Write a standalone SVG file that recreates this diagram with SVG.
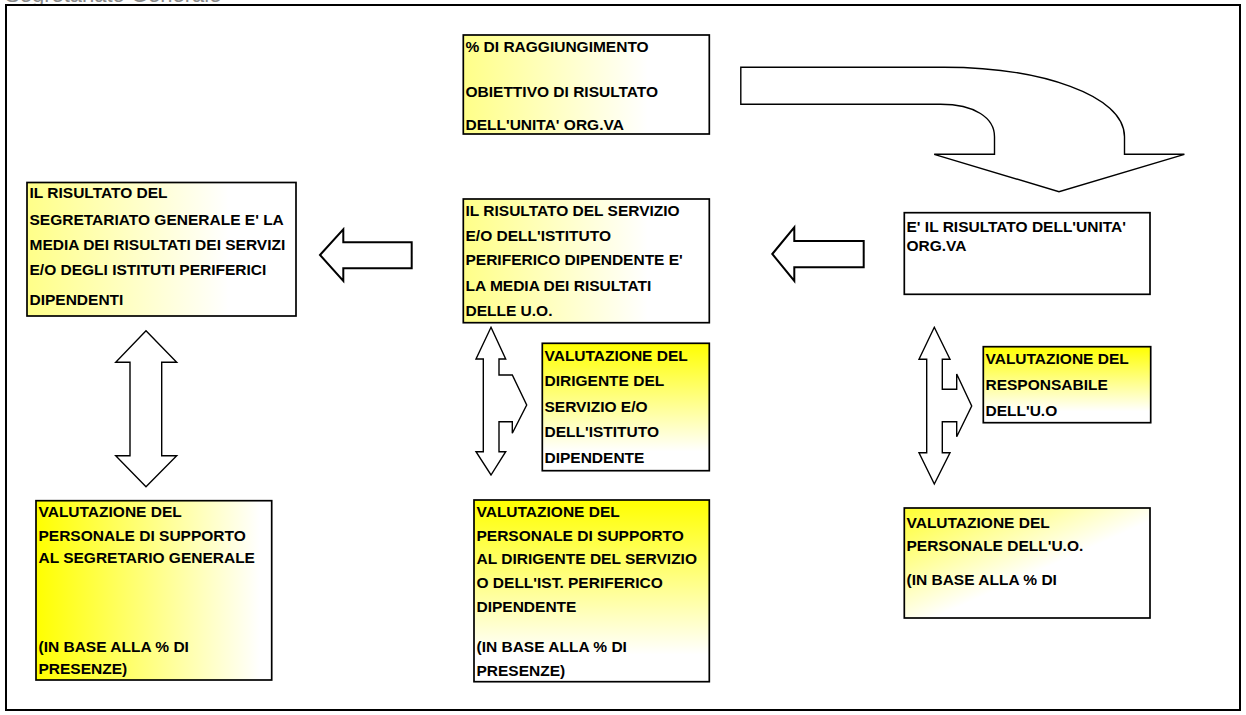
<svg xmlns="http://www.w3.org/2000/svg" width="1246" height="715" viewBox="0 0 1246 715">
  <style>
    .box { stroke: #000; stroke-width: 1.7; }
    .t { font-family: "Liberation Sans", Arial, sans-serif; font-weight: bold; font-size: 15.5px; fill: #000; }
    .arrow { fill: #fff; stroke: #000; stroke-width: 1.4; stroke-linejoin: miter; }
    .arrow-thick { fill: #fff; stroke: #000; stroke-width: 2; stroke-linejoin: miter; }
    .title { font-family: "Liberation Sans", Arial, sans-serif; font-size: 22px; fill: #8a8a8a; }
  </style>
  <defs>
    <linearGradient id="paleH" x1="0" y1="0" x2="1" y2="0">
      <stop offset="0" stop-color="#ffff88"/>
      <stop offset="0.75" stop-color="#ffffff"/>
    </linearGradient>
    <linearGradient id="strongH" x1="0" y1="0" x2="1" y2="0">
      <stop offset="0" stop-color="#ffff00"/>
      <stop offset="0.95" stop-color="#ffffff"/>
    </linearGradient>
    <linearGradient id="strongV" x1="0" y1="0" x2="0" y2="1">
      <stop offset="0" stop-color="#ffff00"/>
      <stop offset="0.85" stop-color="#ffffff"/>
    </linearGradient>
    <linearGradient id="diag" x1="0" y1="0" x2="0.7" y2="0.7">
      <stop offset="0" stop-color="#ffff30"/>
      <stop offset="0.8" stop-color="#ffffff"/>
    </linearGradient>
  </defs>

  <!-- page heading, partly cut by the top edge -->
  <text class="title" x="5" y="2">Segretariato Generale</text>

  <!-- outer frame -->
  <rect x="6" y="5" width="1234" height="705" fill="#fff" stroke="#000" stroke-width="2"/>

  <!-- connectors -->
  <g id="connectors">
    <!-- curved arrow from the target box down to the unit result -->
    <path class="arrow" d="M740.8,67.3 H944 C1040,67.3 1124.5,95 1124.5,136.7 V154.3 H1184.4 L1059,191.7 L934.2,154.3 H994.5 V136.7 C994.5,118 975,104.3 940.5,104.3 H740.8 Z" stroke-width="1.2"/>
    <!-- left arrow: service result to secretariat result -->
    <path class="arrow-thick" d="M320,255 L343.3,229.3 V242.3 H411.7 V268.3 H343.3 V281 Z"/>
    <!-- left arrow: unit result to service result -->
    <path class="arrow-thick" d="M772.3,254 L794.3,227.3 V241 H863.7 V267.3 H794.3 V281 Z"/>
    <!-- double vertical arrow on the left column -->
    <path class="arrow" d="M146,330.7 L176.7,362.3 H161.7 V455.7 H176.7 L146,486.7 L115.7,455.7 H130 V362.3 H115.7 Z"/>
    <!-- three-way arrow in the centre column -->
    <path class="arrow" d="M491,327.3 L505.7,359 H499 V375 H512.3 L526.7,405 L512.3,433.3 V421.7 H499 V451.7 H505.7 L491,475 L476,451.7 H483.3 V359 H476 Z"/>
    <!-- three-way arrow in the right column -->
    <path class="arrow" d="M934.3,327.3 L950,359.3 H942.3 V389.3 H956.7 V374 L971.7,406 L956.7,436.7 V421.7 H942.3 V452.7 H950 L934.3,484 L919,452.7 H926.7 V359.3 H919 Z"/>
  </g>

  <g id="node-segretariato">
    <rect class="box" x="27" y="182.5" width="269" height="133.5" fill="url(#paleH)"/>
    <text class="t" x="29.5" y="198">IL RISULTATO DEL</text>
    <text class="t" x="29.5" y="224.5">SEGRETARIATO GENERALE E' LA</text>
    <text class="t" x="29.5" y="250">MEDIA DEI RISULTATI DEI SERVIZI</text>
    <text class="t" x="29.5" y="275">E/O DEGLI ISTITUTI PERIFERICI</text>
    <text class="t" x="29.5" y="305">DIPENDENTI</text>
  </g>

  <g id="node-obiettivo">
    <rect class="box" x="463.3" y="35" width="246" height="99" fill="url(#paleH)"/>
    <text class="t" x="465.5" y="51.5">% DI RAGGIUNGIMENTO</text>
    <text class="t" x="465.5" y="97">OBIETTIVO DI RISULTATO</text>
    <text class="t" x="465.5" y="130">DELL'UNITA' ORG.VA</text>
  </g>

  <g id="node-servizio">
    <rect class="box" x="463.3" y="199" width="246" height="123.7" fill="url(#paleH)"/>
    <text class="t" x="465.5" y="216">IL RISULTATO DEL SERVIZIO</text>
    <text class="t" x="465.5" y="240.5">E/O DELL'ISTITUTO</text>
    <text class="t" x="465.5" y="265">PERIFERICO DIPENDENTE E'</text>
    <text class="t" x="465.5" y="290.5">LA MEDIA DEI RISULTATI</text>
    <text class="t" x="465.5" y="316">DELLE U.O.</text>
  </g>

  <g id="node-unita">
    <rect class="box" x="904.3" y="212.7" width="245.7" height="81.6" fill="#fff"/>
    <text class="t" x="906.5" y="232">E' IL RISULTATO DELL'UNITA'</text>
    <text class="t" x="906.5" y="250.5">ORG.VA</text>
  </g>

  <g id="node-dirigente">
    <rect class="box" x="542.3" y="343.3" width="167" height="127.4" fill="url(#strongV)"/>
    <text class="t" x="544.5" y="360.5">VALUTAZIONE DEL</text>
    <text class="t" x="544.5" y="386">DIRIGENTE DEL</text>
    <text class="t" x="544.5" y="411.5">SERVIZIO E/O</text>
    <text class="t" x="544.5" y="437">DELL'ISTITUTO</text>
    <text class="t" x="544.5" y="463">DIPENDENTE</text>
  </g>

  <g id="node-responsabile">
    <rect class="box" x="983.3" y="346.7" width="167.4" height="76" fill="url(#strongV)"/>
    <text class="t" x="985.5" y="363.5">VALUTAZIONE DEL</text>
    <text class="t" x="985.5" y="390">RESPONSABILE</text>
    <text class="t" x="985.5" y="415.5">DELL'U.O</text>
  </g>

  <g id="node-personale-segretario">
    <rect class="box" x="36" y="500.7" width="235.7" height="179.3" fill="url(#strongH)"/>
    <text class="t" x="38.5" y="517">VALUTAZIONE DEL</text>
    <text class="t" x="38.5" y="541">PERSONALE DI SUPPORTO</text>
    <text class="t" x="38.5" y="563">AL SEGRETARIO GENERALE</text>
    <text class="t" x="38.5" y="652">(IN BASE ALLA % DI</text>
    <text class="t" x="38.5" y="674">PRESENZE)</text>
  </g>

  <g id="node-personale-dirigente">
    <rect class="box" x="474" y="500" width="235.3" height="181.7" fill="url(#strongV)"/>
    <text class="t" x="476.5" y="517">VALUTAZIONE DEL</text>
    <text class="t" x="476.5" y="540.5">PERSONALE DI SUPPORTO</text>
    <text class="t" x="476.5" y="564">AL DIRIGENTE DEL SERVIZIO</text>
    <text class="t" x="476.5" y="588">O DELL'IST. PERIFERICO</text>
    <text class="t" x="476.5" y="612">DIPENDENTE</text>
    <text class="t" x="476.5" y="652">(IN BASE ALLA % DI</text>
    <text class="t" x="476.5" y="675.5">PRESENZE)</text>
  </g>

  <g id="node-personale-uo">
    <rect class="box" x="904.3" y="508" width="245.7" height="110" fill="url(#diag)"/>
    <text class="t" x="906.5" y="527.5">VALUTAZIONE DEL</text>
    <text class="t" x="906.5" y="550.5">PERSONALE DELL'U.O.</text>
    <text class="t" x="906.5" y="584.5">(IN BASE ALLA % DI</text>
  </g>
</svg>
